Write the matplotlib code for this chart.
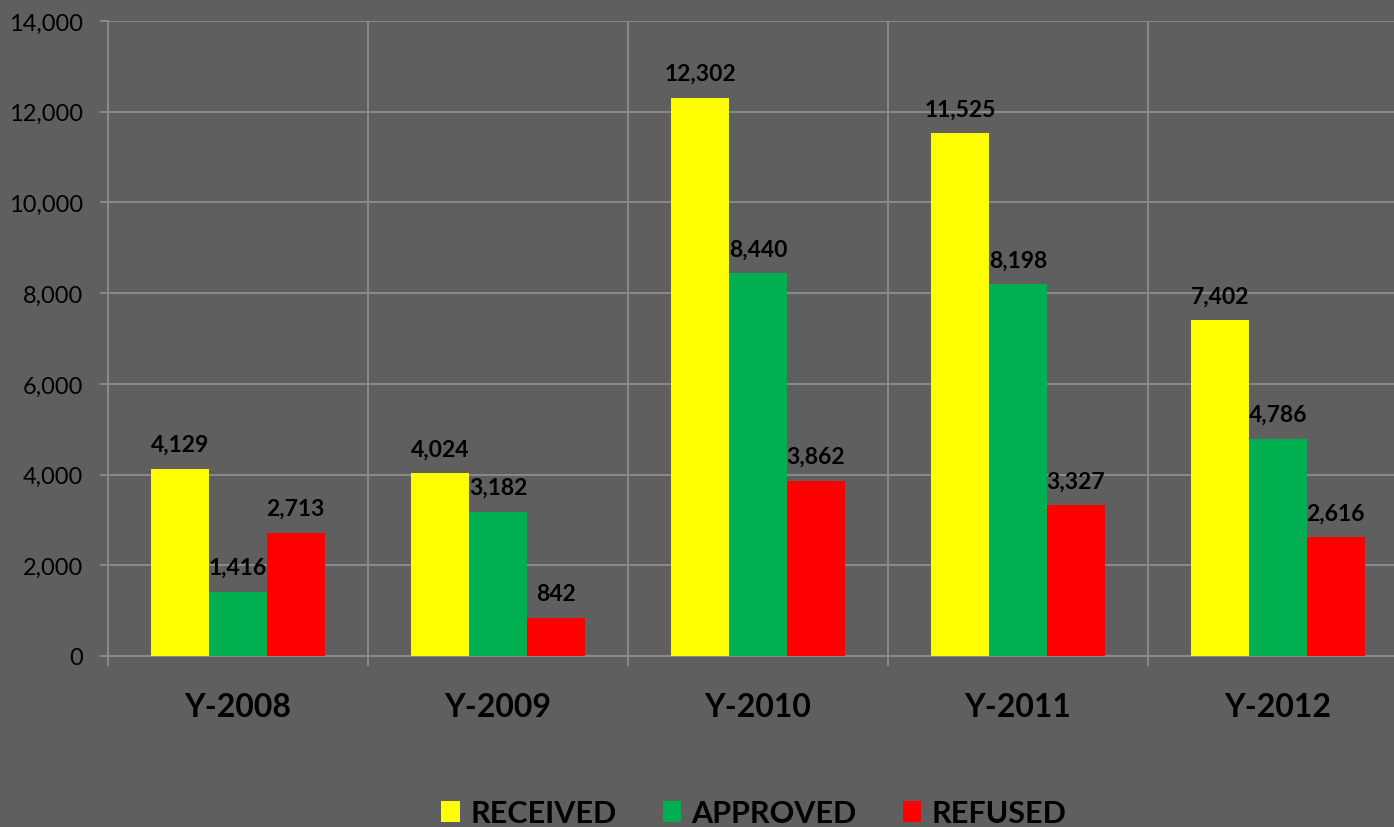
import numpy as np
import matplotlib
matplotlib.use('Agg')
from matplotlib import pyplot as plt

years = ['Y-2008', 'Y-2009', 'Y-2010', 'Y-2011', 'Y-2012']
received = [4129, 4024, 12302, 11525, 7402]
approved = [1416, 3182, 8440, 8198, 4786]
refused = [2713, 842, 3862, 3327, 2616]

bg = '#5f5f5f'
grid = '#8a8a8a'
plt.rcParams['font.family'] = ['Lato', 'DejaVu Sans']

fig = plt.figure(figsize=(13.94, 8.28), dpi=100, facecolor=bg)
ax = fig.add_axes([108 / 1394, 1 - 657 / 828, 1 - 108 / 1394, (657 - 22) / 828])
ax.set_facecolor(bg)

x = np.arange(len(years))
w = 0.222
series = [('RECEIVED', received, '#ffff00', -w),
          ('APPROVED', approved, '#00b050', 0),
          ('REFUSED', refused, '#ff0000', w)]
for name, vals, col, off in series:
    bars = ax.bar(x + off, vals, w, color=col, label=name, zorder=3)
    for b, v in zip(bars, vals):
        ax.annotate(f'{v:,}', (b.get_x() + b.get_width() / 2, v),
                    xytext=(0, 10), textcoords='offset points',
                    ha='center', va='bottom', fontsize=16.5,
                    fontweight='bold', color='black', zorder=4)

ax.set_yticks(np.arange(0, 14001, 2000))
ax.set_yticklabels([f'{v:,}' for v in range(0, 14001, 2000)])
ax.set_xticks(x)
ax.set_xticklabels(years, fontsize=23, fontweight='bold')
ax.set_xticks(np.arange(len(years) + 1) - 0.5, minor=True)
# categories are 260 px wide; the last one runs past the right edge
ax.set_ylim(0, 14000)
ax.set_xlim(-0.5, -0.5 + (1394 - 108) / 260)

ax.grid(axis='y', color=grid, lw=1.4, zorder=0)
ax.grid(axis='x', which='minor', color=grid, lw=1.4, zorder=0)
ax.tick_params(axis='y', length=6, width=1.4, color=grid, pad=12,
               labelsize=17, labelcolor='black')
ax.tick_params(axis='x', which='major', length=0, pad=26, labelcolor='black')
ax.tick_params(axis='x', which='minor', length=7, width=1.4, color=grid)
for s in ['top', 'right']:
    ax.spines[s].set_visible(False)
for s in ['left', 'bottom']:
    ax.spines[s].set_color(grid)
    ax.spines[s].set_linewidth(1.4)

leg = fig.legend(loc='center', bbox_to_anchor=(754 / 1394, 1 - 814 / 828), ncol=3,
                 frameon=False, prop={'size': 22, 'weight': 'bold'},
                 handlelength=0.6, handleheight=0.7, handletextpad=0.35,
                 columnspacing=1.5)

fig.savefig('out.png', dpi=100, facecolor=bg)
